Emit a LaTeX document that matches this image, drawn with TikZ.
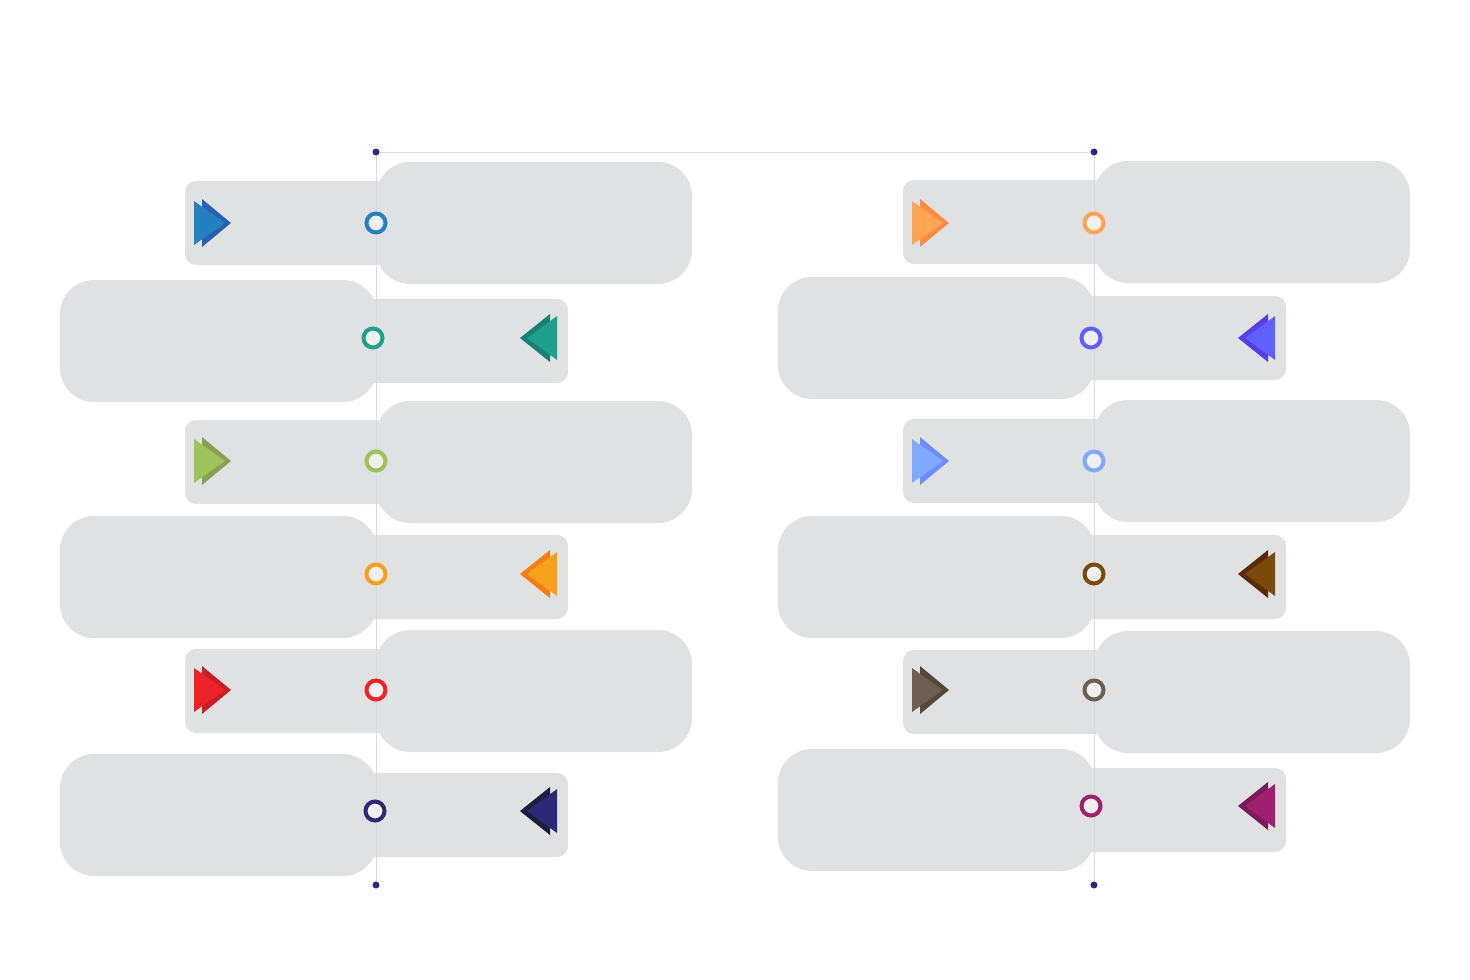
\documentclass[tikz,border=0pt]{standalone}
\usetikzlibrary{backgrounds}
\definecolor{boxgray}{RGB}{224,225,227}
\definecolor{axisgray}{RGB}{216,216,230}
\definecolor{dotblue}{RGB}{40,44,120}
\definecolor{blueF}{RGB}{37,128,192}
\definecolor{blueB}{RGB}{42,96,176}
\definecolor{tealF}{RGB}{30,160,138}
\definecolor{tealB}{RGB}{24,128,120}
\definecolor{greenF}{RGB}{156,196,90}
\definecolor{greenB}{RGB}{140,158,84}
\definecolor{orangeF}{RGB}{247,160,30}
\definecolor{orangeB}{RGB}{245,126,22}
\definecolor{redF}{RGB}{238,34,41}
\definecolor{redB}{RGB}{200,30,40}
\definecolor{navyF}{RGB}{44,42,120}
\definecolor{navyB}{RGB}{28,28,60}
\definecolor{peachF}{RGB}{255,166,82}
\definecolor{peachB}{RGB}{255,140,66}
\definecolor{violetF}{RGB}{96,96,255}
\definecolor{violetB}{RGB}{84,64,230}
\definecolor{skyF}{RGB}{128,170,255}
\definecolor{skyB}{RGB}{110,140,255}
\definecolor{brownF}{RGB}{122,74,10}
\definecolor{brownB}{RGB}{90,42,0}
\definecolor{taupeF}{RGB}{110,96,80}
\definecolor{taupeB}{RGB}{84,72,60}
\definecolor{plumF}{RGB}{160,32,112}
\definecolor{plumB}{RGB}{122,26,90}

\tikzset{
  bigbox/.style={fill=boxgray, rounded corners=34pt},
  smallbox/.style={fill=boxgray, rounded corners=11pt},
  ring/.style={circle, draw, line width=4pt, fill=white!94!black, minimum size=19pt, inner sep=0pt},
  enddot/.style={circle, fill=dotblue, minimum size=7pt, inner sep=0pt},
  axisline/.style={draw=axisgray, line width=0.8pt}
}

% small box on the left, arrow to the right
% #1 name, #2 axis x, #3 centre y, #4 ring y, #5 front, #6 back
\newcommand{\rowRight}[6]{%
  \begin{pgfonlayer}{background}
    \fill[smallbox] (#2-191,#3-42) rectangle (#2+40,#3+42);
    \fill[bigbox] (#2,#3-61) rectangle (#2+316,#3+61);
    \fill[#6] (#2-174,#4-24) -- (#2-145,#4) -- (#2-174,#4+24) -- cycle;
    \fill[#5] (#2-182,#4-22) -- (#2-151,#4) -- (#2-182,#4+22) -- cycle;
  \end{pgfonlayer}
  \node[ring, draw=#5] (#1) at (#2,#4) {};
}

% big box on the left, arrow to the left
% #7 shift of the ring from the axis
\newcommand{\rowLeft}[7]{%
  \begin{pgfonlayer}{background}
    \fill[smallbox] (#2-40,#3-42) rectangle (#2+192,#3+42);
    \fill[bigbox] (#2-316,#3-61) rectangle (#2+1,#3+61);
    \fill[#6] (#2+174,#4-24) -- (#2+144,#4) -- (#2+174,#4+24) -- cycle;
    \fill[#5] (#2+181,#4-22) -- (#2+151,#4) -- (#2+181,#4+22) -- cycle;
  \end{pgfonlayer}
  \node[ring, draw=#5] (#1) at (#2+#7,#4) {};
}

\begin{document}
\begin{tikzpicture}[x=1pt, y=-1pt]
\useasboundingbox (0,0) rectangle (1470,980);

%---------------------------------------
% Axes with end dots
%---------------------------------------
\node[enddot] (dot-tl) at (376,152) {};
\node[enddot] (dot-bl) at (376,885) {};
\node[enddot] (dot-tr) at (1094,152) {};
\node[enddot] (dot-br) at (1094,885) {};

\draw[axisline] (dot-tl) -- (dot-bl);
\draw[axisline] (dot-tr) -- (dot-br);
\draw[axisline] (dot-tl) -- (dot-tr);

%---------------------------------------
% Left column
%---------------------------------------
\rowRight{l1}{376}{223}{223}{blueF}{blueB}
\rowLeft{l2}{376}{341}{338}{tealF}{tealB}{-3}
\rowRight{l3}{376}{462}{461}{greenF}{greenB}
\rowLeft{l4}{376}{577}{574}{orangeF}{orangeB}{0}
\rowRight{l5}{376}{691}{690}{redF}{redB}
\rowLeft{l6}{376}{815}{811}{navyF}{navyB}{-1}

%---------------------------------------
% Right column
%---------------------------------------
\rowRight{r1}{1094}{222}{223}{peachF}{peachB}
\rowLeft{r2}{1094}{338}{338}{violetF}{violetB}{-3}
\rowRight{r3}{1094}{461}{461}{skyF}{skyB}
\rowLeft{r4}{1094}{577}{574}{brownF}{brownB}{0}
\rowRight{r5}{1094}{692}{690}{taupeF}{taupeB}
\rowLeft{r6}{1094}{810}{806}{plumF}{plumB}{-3}

\end{tikzpicture}
\end{document}
